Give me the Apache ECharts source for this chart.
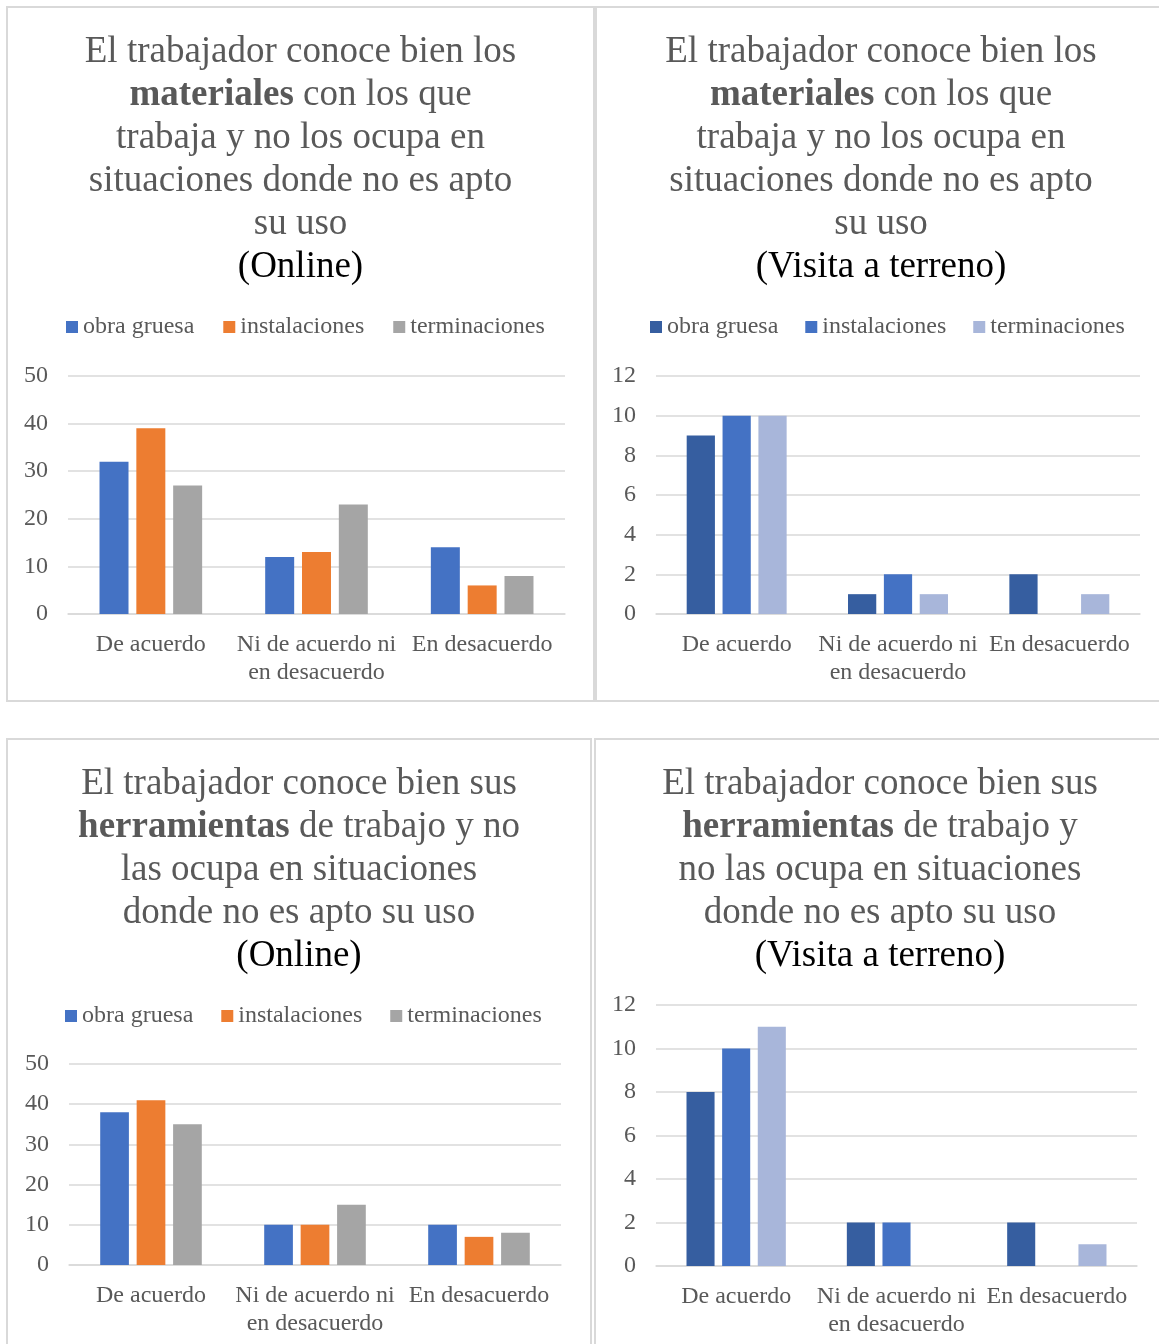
<!DOCTYPE html>
<html>
<head>
<meta charset="utf-8">
<script src="https://cdn.jsdelivr.net/npm/echarts@6/dist/echarts.min.js"></script>
<style>
  html, body { margin: 0; padding: 0; background: #fff; }
  body { width: 1159px; height: 1344px; position: relative; overflow: hidden; }
  .panel { position: absolute; border: 2px solid #d9d9d9; box-sizing: border-box; }
  .panel .chart { width: 100%; height: 100%; }
</style>
</head>
<body>
<div class="panel" style="left:6px;top:6px;width:589px;height:696px"><div class="chart" id="c1"></div></div>
<div class="panel" style="left:595px;top:6px;width:572px;height:696px"><div class="chart" id="c2"></div></div>
<div class="panel" style="left:6px;top:738px;width:586px;height:620px"><div class="chart" id="c3"></div></div>
<div class="panel" style="left:594px;top:738px;width:572px;height:620px"><div class="chart" id="c4"></div></div>

<script>
// categorias y series
const categories = ['De acuerdo', 'Ni de acuerdo ni\nen desacuerdo', 'En desacuerdo'];
const seriesNames = ['obra gruesa', 'instalaciones', 'terminaciones'];

// materiales - online
const matOnlineObra = [32, 12, 14];
const matOnlineInst = [39, 13, 6];
const matOnlineTerm = [27, 23, 8];

// materiales - visita a terreno
const matVisitaObra = [9, 1, 2];
const matVisitaInst = [10, 2, 0];
const matVisitaTerm = [10, 1, 1];

// herramientas - online
const herOnlineObra = [38, 10, 10];
const herOnlineInst = [41, 10, 7];
const herOnlineTerm = [35, 15, 8];

// herramientas - visita a terreno
const herVisitaObra = [8, 2, 2];
const herVisitaInst = [10, 2, 0];
const herVisitaTerm = [11, 0, 1];

const onlineColors = ['#4472c4', '#ed7d31', '#a5a5a5'];
const visitaColors = ['#365ea0', '#4472c4', '#a8b6da'];

const FONT = '"Liberation Serif", "Times New Roman", serif';
const GRAY = '#595959';

function makeChart(id, cfg) {
  const chart = echarts.init(document.getElementById(id));
  const option = {
    animation: false,
    color: cfg.colors,
    title: {
      text: cfg.title,
      left: 'center',
      top: cfg.titleTop,
      padding: 0,
      textStyle: {
        fontFamily: FONT,
        fontSize: 37,
        lineHeight: 43,
        fontWeight: 'normal',
        color: GRAY,
        rich: {
          b: { fontFamily: FONT, fontSize: 37, lineHeight: 43, fontWeight: 'bold', color: GRAY },
          k: { fontFamily: FONT, fontSize: 37, lineHeight: 43, color: '#000' }
        }
      }
    },
    legend: {
      show: cfg.legend !== false,
      left: cfg.legendLeft,
      top: cfg.legendTop,
      padding: 0,
      itemWidth: 12,
      itemHeight: 12,
      itemGap: cfg.legendGap,
      icon: 'rect',
      textStyle: { fontFamily: FONT, fontSize: 24, color: GRAY },
      data: seriesNames
    },
    grid: cfg.grid,
    xAxis: {
      type: 'category',
      data: categories,
      axisLine: { lineStyle: { color: '#d9d9d9', width: 1.5 } },
      axisTick: { show: false },
      axisLabel: {
        interval: 0,
        margin: 17,
        fontFamily: FONT,
        fontSize: 24,
        lineHeight: 28,
        color: GRAY
      }
    },
    yAxis: {
      type: 'value',
      min: 0,
      max: cfg.max,
      interval: cfg.interval,
      axisLine: { show: false },
      axisTick: { show: false },
      axisLabel: { margin: 20, fontFamily: FONT, fontSize: 24, color: GRAY },
      splitLine: { lineStyle: { color: '#d9d9d9', width: 1.5 } }
    },
    series: cfg.data.map((d, i) => ({
      name: seriesNames[i],
      type: 'bar',
      data: d,
      barWidth: '17.5%',
      barGap: '27%'
    }))
  };
  chart.setOption(option);
}

makeChart('c1', {
  title: 'El trabajador conoce bien los\n{b|materiales} con los que\ntrabaja y no los ocupa en\nsituaciones donde no es apto\nsu uso\n{k|(Online)}',
  titleTop: 23,
  colors: onlineColors,
  legendLeft: 58, legendTop: 307, legendGap: 29,
  grid: { left: 60, top: 368, width: 497, height: 238 },
  max: 50, interval: 10,
  data: [matOnlineObra, matOnlineInst, matOnlineTerm]
});

makeChart('c2', {
  title: 'El trabajador conoce bien los\n{b|materiales} con los que\ntrabaja y no los ocupa en\nsituaciones donde no es apto\nsu uso\n{k|(Visita a terreno)}',
  titleTop: 23,
  colors: visitaColors,
  legendLeft: 53, legendTop: 307, legendGap: 27,
  grid: { left: 59, top: 368, width: 484, height: 238 },
  max: 12, interval: 2,
  data: [matVisitaObra, matVisitaInst, matVisitaTerm]
});

makeChart('c3', {
  title: 'El trabajador conoce bien sus\n{b|herramientas} de trabajo y no\nlas ocupa en situaciones\ndonde no es apto su uso\n{k|(Online)}',
  titleTop: 23,
  colors: onlineColors,
  legendLeft: 57, legendTop: 264, legendGap: 28,
  grid: { left: 61, top: 324, width: 492, height: 201 },
  max: 50, interval: 10,
  data: [herOnlineObra, herOnlineInst, herOnlineTerm]
});

makeChart('c4', {
  title: 'El trabajador conoce bien sus\n{b|herramientas} de trabajo y\nno las ocupa en situaciones\ndonde no es apto su uso\n{k|(Visita a terreno)}',
  titleTop: 23,
  colors: visitaColors,
  legend: false,
  grid: { left: 60, top: 265, width: 481, height: 261 },
  max: 12, interval: 2,
  data: [herVisitaObra, herVisitaInst, herVisitaTerm]
});
</script>
</body>
</html>
